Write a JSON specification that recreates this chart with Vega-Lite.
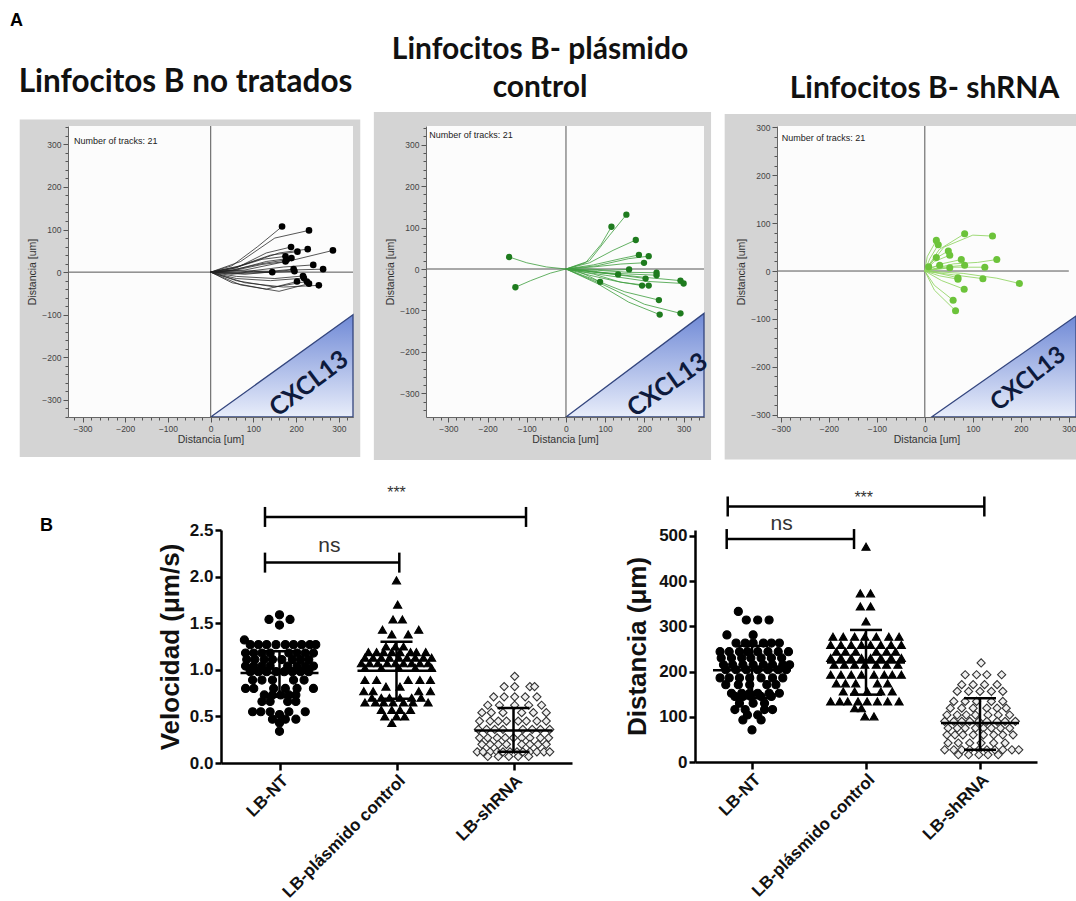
{
"$schema": "https://vega.github.io/schema/vega-lite/v6.json",
"padding": {"left": 10, "top": 11, "right": 0, "bottom": 2},
"autosize": {"type": "pad"},
"background": "white",
"columns": 5,
"align": "each",
"bounds": "flush",
"spacing": {"row": 113, "column": 0},
"title": {"text": "A", "anchor": "start", "frame": "group", "dx": -58, "offset": -13, "baseline": "bottom", "fontSize": 18, "font": "Liberation Sans", "fontWeight": "bold", "color": "#000"},
"config": {"view": {"stroke": null}, "font": "Liberation Sans"},
"datasets": {
"tracks1": [
{"t":1,"s":0,"x":0,"y":0,"e":0},{"t":1,"s":1,"x":50,"y":15,"e":0},{"t":1,"s":2,"x":110,"y":60,"e":0},{"t":1,"s":3,"x":167,"y":107,"e":1},
{"t":2,"s":0,"x":0,"y":0,"e":0},{"t":2,"s":1,"x":70,"y":25,"e":0},{"t":2,"s":2,"x":150,"y":80,"e":0},{"t":2,"s":3,"x":230,"y":98,"e":1},
{"t":3,"s":0,"x":0,"y":0,"e":0},{"t":3,"s":1,"x":60,"y":10,"e":0},{"t":3,"s":2,"x":130,"y":45,"e":0},{"t":3,"s":3,"x":188,"y":59,"e":1},
{"t":4,"s":0,"x":0,"y":0,"e":0},{"t":4,"s":1,"x":70,"y":15,"e":0},{"t":4,"s":2,"x":160,"y":45,"e":0},{"t":4,"s":3,"x":227,"y":54,"e":1},
{"t":5,"s":0,"x":0,"y":0,"e":0},{"t":5,"s":1,"x":60,"y":12,"e":0},{"t":5,"s":2,"x":140,"y":40,"e":0},{"t":5,"s":3,"x":203,"y":48,"e":1},
{"t":6,"s":0,"x":0,"y":0,"e":0},{"t":6,"s":1,"x":80,"y":5,"e":0},{"t":6,"s":2,"x":200,"y":30,"e":0},{"t":6,"s":3,"x":286,"y":51,"e":1},
{"t":7,"s":0,"x":0,"y":0,"e":0},{"t":7,"s":1,"x":50,"y":8,"e":0},{"t":7,"s":2,"x":120,"y":30,"e":0},{"t":7,"s":3,"x":175,"y":37,"e":1},
{"t":8,"s":0,"x":0,"y":0,"e":0},{"t":8,"s":1,"x":55,"y":5,"e":0},{"t":8,"s":2,"x":130,"y":25,"e":0},{"t":8,"s":3,"x":189,"y":33,"e":1},
{"t":9,"s":0,"x":0,"y":0,"e":0},{"t":9,"s":1,"x":60,"y":5,"e":0},{"t":9,"s":2,"x":120,"y":18,"e":0},{"t":9,"s":3,"x":175,"y":25,"e":1},
{"t":10,"s":0,"x":0,"y":0,"e":0},{"t":10,"s":1,"x":70,"y":0,"e":0},{"t":10,"s":2,"x":170,"y":12,"e":0},{"t":10,"s":3,"x":240,"y":17,"e":1},
{"t":11,"s":0,"x":0,"y":0,"e":0},{"t":11,"s":1,"x":80,"y":-5,"e":0},{"t":11,"s":2,"x":190,"y":5,"e":0},{"t":11,"s":3,"x":263,"y":7,"e":1},
{"t":12,"s":0,"x":0,"y":0,"e":0},{"t":12,"s":1,"x":60,"y":3,"e":0},{"t":12,"s":2,"x":140,"y":2,"e":0},{"t":12,"s":3,"x":194,"y":7,"e":1},
{"t":13,"s":0,"x":0,"y":0,"e":0},{"t":13,"s":1,"x":70,"y":-3,"e":0},{"t":13,"s":2,"x":150,"y":0,"e":0},{"t":13,"s":3,"x":196,"y":2,"e":1},
{"t":14,"s":0,"x":0,"y":0,"e":0},{"t":14,"s":1,"x":50,"y":-5,"e":0},{"t":14,"s":2,"x":100,"y":2,"e":0},{"t":14,"s":3,"x":144,"y":0,"e":1},
{"t":15,"s":0,"x":0,"y":0,"e":0},{"t":15,"s":1,"x":60,"y":-10,"e":0},{"t":15,"s":2,"x":150,"y":-15,"e":0},{"t":15,"s":3,"x":216,"y":-9,"e":1},
{"t":16,"s":0,"x":0,"y":0,"e":0},{"t":16,"s":1,"x":60,"y":-20,"e":0},{"t":16,"s":2,"x":150,"y":-35,"e":0},{"t":16,"s":3,"x":225,"y":-22,"e":1},
{"t":17,"s":0,"x":0,"y":0,"e":0},{"t":17,"s":1,"x":50,"y":-25,"e":0},{"t":17,"s":2,"x":130,"y":-40,"e":0},{"t":17,"s":3,"x":202,"y":-22,"e":1},
{"t":18,"s":0,"x":0,"y":0,"e":0},{"t":18,"s":1,"x":70,"y":-30,"e":0},{"t":18,"s":2,"x":160,"y":-45,"e":0},{"t":18,"s":3,"x":230,"y":-27,"e":1},
{"t":19,"s":0,"x":0,"y":0,"e":0},{"t":19,"s":1,"x":80,"y":-25,"e":0},{"t":19,"s":2,"x":170,"y":-35,"e":0},{"t":19,"s":3,"x":253,"y":-31,"e":1},
{"t":20,"s":0,"x":0,"y":0,"e":0},{"t":20,"s":1,"x":60,"y":-15,"e":0},{"t":20,"s":2,"x":140,"y":-20,"e":0},{"t":20,"s":3,"x":218,"y":-14,"e":1},
{"t":21,"s":0,"x":0,"y":0,"e":0},{"t":21,"s":1,"x":50,"y":5,"e":0},{"t":21,"s":2,"x":120,"y":20,"e":0},{"t":21,"s":3,"x":178,"y":29,"e":1}
],
"tracks2": [
{"t":1,"s":0,"x":0,"y":0,"e":0},{"t":1,"s":1,"x":60,"y":20,"e":0},{"t":1,"s":2,"x":110,"y":80,"e":0},{"t":1,"s":3,"x":154,"y":131,"e":1},
{"t":2,"s":0,"x":0,"y":0,"e":0},{"t":2,"s":1,"x":50,"y":15,"e":0},{"t":2,"s":2,"x":90,"y":60,"e":0},{"t":2,"s":3,"x":116,"y":102,"e":1},
{"t":3,"s":0,"x":0,"y":0,"e":0},{"t":3,"s":1,"x":60,"y":15,"e":0},{"t":3,"s":2,"x":120,"y":45,"e":0},{"t":3,"s":3,"x":178,"y":70,"e":1},
{"t":4,"s":0,"x":0,"y":0,"e":0},{"t":4,"s":1,"x":70,"y":10,"e":0},{"t":4,"s":2,"x":140,"y":25,"e":0},{"t":4,"s":3,"x":186,"y":34,"e":1},
{"t":5,"s":0,"x":0,"y":0,"e":0},{"t":5,"s":1,"x":80,"y":8,"e":0},{"t":5,"s":2,"x":160,"y":25,"e":0},{"t":5,"s":3,"x":211,"y":31,"e":1},
{"t":6,"s":0,"x":0,"y":0,"e":0},{"t":6,"s":1,"x":70,"y":5,"e":0},{"t":6,"s":2,"x":140,"y":12,"e":0},{"t":6,"s":3,"x":199,"y":15,"e":1},
{"t":7,"s":0,"x":0,"y":0,"e":0},{"t":7,"s":1,"x":-50,"y":5,"e":0},{"t":7,"s":2,"x":-100,"y":15,"e":0},{"t":7,"s":3,"x":-145,"y":29,"e":1},
{"t":8,"s":0,"x":0,"y":0,"e":0},{"t":8,"s":1,"x":-40,"y":-10,"e":0},{"t":8,"s":2,"x":-90,"y":-28,"e":0},{"t":8,"s":3,"x":-129,"y":-44,"e":1},
{"t":9,"s":0,"x":0,"y":0,"e":0},{"t":9,"s":1,"x":30,"y":-5,"e":0},{"t":9,"s":2,"x":60,"y":-18,"e":0},{"t":9,"s":3,"x":87,"y":-31,"e":1},
{"t":10,"s":0,"x":0,"y":0,"e":0},{"t":10,"s":1,"x":45,"y":-3,"e":0},{"t":10,"s":2,"x":90,"y":-10,"e":0},{"t":10,"s":3,"x":133,"y":-13,"e":1},
{"t":11,"s":0,"x":0,"y":0,"e":0},{"t":11,"s":1,"x":60,"y":0,"e":0},{"t":11,"s":2,"x":110,"y":-3,"e":0},{"t":11,"s":3,"x":161,"y":-1,"e":1},
{"t":12,"s":0,"x":0,"y":0,"e":0},{"t":12,"s":1,"x":70,"y":-5,"e":0},{"t":12,"s":2,"x":140,"y":-15,"e":0},{"t":12,"s":3,"x":203,"y":-23,"e":1},
{"t":13,"s":0,"x":0,"y":0,"e":0},{"t":13,"s":1,"x":80,"y":-3,"e":0},{"t":13,"s":2,"x":160,"y":-8,"e":0},{"t":13,"s":3,"x":231,"y":-9,"e":1},
{"t":14,"s":0,"x":0,"y":0,"e":0},{"t":14,"s":1,"x":80,"y":-8,"e":0},{"t":14,"s":2,"x":160,"y":-12,"e":0},{"t":14,"s":3,"x":231,"y":-15,"e":1},
{"t":15,"s":0,"x":0,"y":0,"e":0},{"t":15,"s":1,"x":60,"y":-15,"e":0},{"t":15,"s":2,"x":130,"y":-30,"e":0},{"t":15,"s":3,"x":194,"y":-40,"e":1},
{"t":16,"s":0,"x":0,"y":0,"e":0},{"t":16,"s":1,"x":70,"y":-12,"e":0},{"t":16,"s":2,"x":140,"y":-32,"e":0},{"t":16,"s":3,"x":211,"y":-40,"e":1},
{"t":17,"s":0,"x":0,"y":0,"e":0},{"t":17,"s":1,"x":100,"y":-10,"e":0},{"t":17,"s":2,"x":200,"y":-20,"e":0},{"t":17,"s":3,"x":292,"y":-28,"e":1},
{"t":18,"s":0,"x":0,"y":0,"e":0},{"t":18,"s":1,"x":100,"y":-15,"e":0},{"t":18,"s":2,"x":210,"y":-30,"e":0},{"t":18,"s":3,"x":300,"y":-35,"e":1},
{"t":19,"s":0,"x":0,"y":0,"e":0},{"t":19,"s":1,"x":70,"y":-25,"e":0},{"t":19,"s":2,"x":150,"y":-55,"e":0},{"t":19,"s":3,"x":237,"y":-75,"e":1},
{"t":20,"s":0,"x":0,"y":0,"e":0},{"t":20,"s":1,"x":80,"y":-35,"e":0},{"t":20,"s":2,"x":160,"y":-80,"e":0},{"t":20,"s":3,"x":239,"y":-110,"e":1},
{"t":21,"s":0,"x":0,"y":0,"e":0},{"t":21,"s":1,"x":100,"y":-40,"e":0},{"t":21,"s":2,"x":200,"y":-85,"e":0},{"t":21,"s":3,"x":292,"y":-107,"e":1}
],
"tracks3": [
{"t":1,"s":0,"x":0,"y":0,"e":0},{"t":1,"s":1,"x":5,"y":30,"e":0},{"t":1,"s":2,"x":24,"y":64,"e":1},
{"t":2,"s":0,"x":0,"y":0,"e":0},{"t":2,"s":1,"x":10,"y":25,"e":0},{"t":2,"s":2,"x":28,"y":55,"e":1},
{"t":3,"s":0,"x":0,"y":0,"e":0},{"t":3,"s":1,"x":30,"y":45,"e":0},{"t":3,"s":2,"x":83,"y":78,"e":1},
{"t":4,"s":0,"x":0,"y":0,"e":0},{"t":4,"s":1,"x":40,"y":50,"e":0},{"t":4,"s":2,"x":100,"y":75,"e":0},{"t":4,"s":3,"x":141,"y":73,"e":1},
{"t":5,"s":0,"x":0,"y":0,"e":0},{"t":5,"s":1,"x":20,"y":25,"e":0},{"t":5,"s":2,"x":49,"y":42,"e":1},
{"t":6,"s":0,"x":0,"y":0,"e":0},{"t":6,"s":1,"x":20,"y":20,"e":0},{"t":6,"s":2,"x":52,"y":33,"e":1},
{"t":7,"s":0,"x":0,"y":0,"e":0},{"t":7,"s":1,"x":10,"y":15,"e":0},{"t":7,"s":2,"x":24,"y":28,"e":1},
{"t":8,"s":0,"x":0,"y":0,"e":0},{"t":8,"s":1,"x":35,"y":15,"e":0},{"t":8,"s":2,"x":76,"y":24,"e":1},
{"t":9,"s":0,"x":0,"y":0,"e":0},{"t":9,"s":1,"x":60,"y":15,"e":0},{"t":9,"s":2,"x":110,"y":18,"e":0},{"t":9,"s":3,"x":150,"y":24,"e":1},
{"t":10,"s":0,"x":0,"y":0,"e":0},{"t":10,"s":1,"x":40,"y":8,"e":0},{"t":10,"s":2,"x":83,"y":12,"e":1},
{"t":11,"s":0,"x":0,"y":0,"e":0},{"t":11,"s":1,"x":60,"y":8,"e":0},{"t":11,"s":2,"x":125,"y":8,"e":1},
{"t":12,"s":0,"x":0,"y":0,"e":0},{"t":12,"s":1,"x":25,"y":5,"e":0},{"t":12,"s":2,"x":52,"y":7,"e":1},
{"t":13,"s":0,"x":0,"y":0,"e":0},{"t":13,"s":1,"x":15,"y":8,"e":0},{"t":13,"s":2,"x":31,"y":12,"e":1},
{"t":14,"s":0,"x":0,"y":0,"e":0},{"t":14,"s":1,"x":3,"y":4,"e":0},{"t":14,"s":2,"x":8,"y":9,"e":1},
{"t":15,"s":0,"x":0,"y":0,"e":0},{"t":15,"s":1,"x":30,"y":-10,"e":0},{"t":15,"s":2,"x":69,"y":-17,"e":1},
{"t":16,"s":0,"x":0,"y":0,"e":0},{"t":16,"s":1,"x":60,"y":-8,"e":0},{"t":16,"s":2,"x":121,"y":-16,"e":1},
{"t":17,"s":0,"x":0,"y":0,"e":0},{"t":17,"s":1,"x":80,"y":-5,"e":0},{"t":17,"s":2,"x":150,"y":-15,"e":0},{"t":17,"s":3,"x":197,"y":-26,"e":1},
{"t":18,"s":0,"x":0,"y":0,"e":0},{"t":18,"s":1,"x":35,"y":-20,"e":0},{"t":18,"s":2,"x":82,"y":-38,"e":1},
{"t":19,"s":0,"x":0,"y":0,"e":0},{"t":19,"s":1,"x":20,"y":-30,"e":0},{"t":19,"s":2,"x":59,"y":-61,"e":1},
{"t":20,"s":0,"x":0,"y":0,"e":0},{"t":20,"s":1,"x":20,"y":-40,"e":0},{"t":20,"s":2,"x":64,"y":-83,"e":1},
{"t":21,"s":0,"x":0,"y":0,"e":0},{"t":21,"s":1,"x":30,"y":-5,"e":0},{"t":21,"s":2,"x":69,"y":-14,"e":1}
],
"velPts": [
{"g":1,"x":1.00,"y":1.59},{"g":1,"x":0.91,"y":1.54},{"g":1,"x":1.09,"y":1.54},{"g":1,"x":1.00,"y":1.48},{"g":1,"x":0.70,"y":1.32},
{"g":1,"x":0.75,"y":1.27},{"g":1,"x":0.82,"y":1.27},{"g":1,"x":0.89,"y":1.27},{"g":1,"x":0.97,"y":1.27},{"g":1,"x":1.05,"y":1.27},{"g":1,"x":1.12,"y":1.27},{"g":1,"x":1.19,"y":1.27},{"g":1,"x":1.26,"y":1.27},{"g":1,"x":1.31,"y":1.27},
{"g":1,"x":0.71,"y":1.18},{"g":1,"x":0.78,"y":1.18},{"g":1,"x":0.85,"y":1.18},{"g":1,"x":0.92,"y":1.18},{"g":1,"x":1.08,"y":1.18},{"g":1,"x":1.15,"y":1.18},{"g":1,"x":1.22,"y":1.18},{"g":1,"x":1.29,"y":1.18},
{"g":1,"x":0.72,"y":1.11},{"g":1,"x":0.79,"y":1.11},{"g":1,"x":0.87,"y":1.11},{"g":1,"x":0.94,"y":1.11},{"g":1,"x":1.02,"y":1.11},{"g":1,"x":1.11,"y":1.11},{"g":1,"x":1.18,"y":1.11},{"g":1,"x":1.25,"y":1.11},
{"g":1,"x":0.71,"y":1.04},{"g":1,"x":0.78,"y":1.04},{"g":1,"x":0.85,"y":1.04},{"g":1,"x":0.92,"y":1.04},{"g":1,"x":1.07,"y":1.04},{"g":1,"x":1.15,"y":1.04},{"g":1,"x":1.22,"y":1.04},{"g":1,"x":1.29,"y":1.04},
{"g":1,"x":0.75,"y":0.98},{"g":1,"x":0.82,"y":0.98},{"g":1,"x":0.89,"y":0.98},{"g":1,"x":0.97,"y":0.98},{"g":1,"x":1.04,"y":0.98},{"g":1,"x":1.11,"y":0.98},{"g":1,"x":1.18,"y":0.98},{"g":1,"x":1.25,"y":0.98},
{"g":1,"x":0.77,"y":0.89},{"g":1,"x":0.85,"y":0.89},{"g":1,"x":0.94,"y":0.89},{"g":1,"x":1.12,"y":0.89},{"g":1,"x":1.21,"y":0.89},
{"g":1,"x":0.71,"y":0.80},{"g":1,"x":0.78,"y":0.80},{"g":1,"x":0.95,"y":0.80},{"g":1,"x":1.05,"y":0.80},{"g":1,"x":1.15,"y":0.80},{"g":1,"x":1.29,"y":0.80},
{"g":1,"x":0.87,"y":0.73},{"g":1,"x":0.94,"y":0.73},{"g":1,"x":1.01,"y":0.73},{"g":1,"x":1.08,"y":0.73},{"g":1,"x":1.14,"y":0.73},
{"g":1,"x":0.85,"y":0.66},{"g":1,"x":0.92,"y":0.66},{"g":1,"x":1.07,"y":0.66},{"g":1,"x":1.14,"y":0.66},
{"g":1,"x":0.77,"y":0.55},{"g":1,"x":0.84,"y":0.55},{"g":1,"x":0.92,"y":0.55},{"g":1,"x":1.08,"y":0.55},{"g":1,"x":1.22,"y":0.55},
{"g":1,"x":1.00,"y":0.52},{"g":1,"x":0.94,"y":0.47},{"g":1,"x":1.05,"y":0.47},{"g":1,"x":1.14,"y":0.47},{"g":1,"x":1.00,"y":0.43},{"g":1,"x":1.00,"y":0.34},
{"g":2,"x":2.00,"y":1.96},{"g":2,"x":2.01,"y":1.70},{"g":2,"x":1.97,"y":1.54},{"g":2,"x":2.05,"y":1.54},{"g":2,"x":1.88,"y":1.43},{"g":2,"x":2.19,"y":1.43},{"g":2,"x":1.96,"y":1.38},{"g":2,"x":2.10,"y":1.38},
{"g":2,"x":1.91,"y":1.25},{"g":2,"x":1.99,"y":1.25},{"g":2,"x":2.06,"y":1.25},
{"g":2,"x":1.76,"y":1.19},{"g":2,"x":1.83,"y":1.19},{"g":2,"x":1.89,"y":1.19},{"g":2,"x":1.96,"y":1.19},{"g":2,"x":2.03,"y":1.19},{"g":2,"x":2.12,"y":1.19},{"g":2,"x":2.17,"y":1.19},{"g":2,"x":2.25,"y":1.19},
{"g":2,"x":1.73,"y":1.13},{"g":2,"x":1.80,"y":1.13},{"g":2,"x":1.87,"y":1.13},{"g":2,"x":1.94,"y":1.13},{"g":2,"x":2.02,"y":1.13},{"g":2,"x":2.09,"y":1.13},{"g":2,"x":2.16,"y":1.13},{"g":2,"x":2.23,"y":1.13},{"g":2,"x":2.30,"y":1.13},
{"g":2,"x":1.70,"y":1.07},{"g":2,"x":1.77,"y":1.07},{"g":2,"x":1.84,"y":1.07},{"g":2,"x":1.92,"y":1.07},{"g":2,"x":1.99,"y":1.07},{"g":2,"x":2.06,"y":1.07},{"g":2,"x":2.13,"y":1.07},{"g":2,"x":2.20,"y":1.07},{"g":2,"x":2.27,"y":1.07},
{"g":2,"x":1.73,"y":1.02},{"g":2,"x":1.87,"y":1.02},{"g":2,"x":2.02,"y":1.02},{"g":2,"x":2.16,"y":1.02},{"g":2,"x":2.30,"y":1.02},
{"g":2,"x":1.73,"y":0.89},{"g":2,"x":1.83,"y":0.89},{"g":2,"x":2.10,"y":0.89},{"g":2,"x":2.20,"y":0.89},{"g":2,"x":2.29,"y":0.89},
{"g":2,"x":1.91,"y":0.82},{"g":2,"x":2.03,"y":0.82},
{"g":2,"x":1.72,"y":0.77},{"g":2,"x":1.80,"y":0.77},{"g":2,"x":2.19,"y":0.77},{"g":2,"x":2.29,"y":0.77},
{"g":2,"x":1.79,"y":0.70},{"g":2,"x":1.87,"y":0.70},{"g":2,"x":1.94,"y":0.70},{"g":2,"x":2.03,"y":0.70},{"g":2,"x":2.13,"y":0.70},{"g":2,"x":2.21,"y":0.70},
{"g":2,"x":1.73,"y":0.65},{"g":2,"x":1.82,"y":0.65},{"g":2,"x":1.89,"y":0.65},{"g":2,"x":1.97,"y":0.65},{"g":2,"x":2.06,"y":0.65},{"g":2,"x":2.14,"y":0.65},{"g":2,"x":2.27,"y":0.65},
{"g":2,"x":1.87,"y":0.57},{"g":2,"x":1.96,"y":0.57},{"g":2,"x":2.03,"y":0.57},{"g":2,"x":2.12,"y":0.57},
{"g":2,"x":1.90,"y":0.50},{"g":2,"x":2.00,"y":0.50},{"g":2,"x":2.07,"y":0.50},{"g":2,"x":1.96,"y":0.43},
{"g":3,"x":3.01,"y":0.93},
{"g":3,"x":2.92,"y":0.82},{"g":3,"x":3.01,"y":0.82},{"g":3,"x":3.14,"y":0.82},{"g":3,"x":3.18,"y":0.82},
{"g":3,"x":2.83,"y":0.71},{"g":3,"x":2.92,"y":0.71},{"g":3,"x":3.01,"y":0.71},{"g":3,"x":3.10,"y":0.71},{"g":3,"x":3.20,"y":0.71},
{"g":3,"x":2.78,"y":0.62},{"g":3,"x":2.88,"y":0.62},{"g":3,"x":3.01,"y":0.62},{"g":3,"x":3.13,"y":0.62},{"g":3,"x":3.24,"y":0.62},
{"g":3,"x":2.73,"y":0.54},{"g":3,"x":2.81,"y":0.54},{"g":3,"x":2.91,"y":0.54},{"g":3,"x":3.07,"y":0.54},{"g":3,"x":3.17,"y":0.54},{"g":3,"x":3.28,"y":0.54},
{"g":3,"x":2.71,"y":0.45},{"g":3,"x":2.80,"y":0.45},{"g":3,"x":2.87,"y":0.45},{"g":3,"x":2.94,"y":0.45},{"g":3,"x":3.04,"y":0.45},{"g":3,"x":3.11,"y":0.45},{"g":3,"x":3.20,"y":0.45},{"g":3,"x":3.28,"y":0.45},
{"g":3,"x":2.70,"y":0.36},{"g":3,"x":2.77,"y":0.36},{"g":3,"x":2.84,"y":0.36},{"g":3,"x":2.91,"y":0.36},{"g":3,"x":3.08,"y":0.36},{"g":3,"x":3.16,"y":0.36},{"g":3,"x":3.23,"y":0.36},{"g":3,"x":3.31,"y":0.36},
{"g":3,"x":2.71,"y":0.27},{"g":3,"x":2.78,"y":0.27},{"g":3,"x":2.86,"y":0.27},{"g":3,"x":2.93,"y":0.27},{"g":3,"x":3.00,"y":0.27},{"g":3,"x":3.07,"y":0.27},{"g":3,"x":3.14,"y":0.27},{"g":3,"x":3.23,"y":0.27},{"g":3,"x":3.30,"y":0.27},
{"g":3,"x":2.73,"y":0.20},{"g":3,"x":2.80,"y":0.20},{"g":3,"x":2.87,"y":0.20},{"g":3,"x":2.94,"y":0.20},{"g":3,"x":3.07,"y":0.20},{"g":3,"x":3.14,"y":0.20},{"g":3,"x":3.21,"y":0.20},{"g":3,"x":3.28,"y":0.20},
{"g":3,"x":2.69,"y":0.12},{"g":3,"x":2.74,"y":0.12},{"g":3,"x":2.80,"y":0.12},{"g":3,"x":2.86,"y":0.12},{"g":3,"x":2.91,"y":0.12},{"g":3,"x":2.97,"y":0.12},{"g":3,"x":3.03,"y":0.12},{"g":3,"x":3.08,"y":0.12},{"g":3,"x":3.14,"y":0.12},{"g":3,"x":3.20,"y":0.12},{"g":3,"x":3.26,"y":0.12},{"g":3,"x":3.31,"y":0.12},
{"g":3,"x":2.78,"y":0.07},{"g":3,"x":2.87,"y":0.07},{"g":3,"x":2.96,"y":0.07},{"g":3,"x":3.04,"y":0.07},{"g":3,"x":3.13,"y":0.07}
],
"distPts": [
{"g":1,"x":0.88,"y":333},{"g":1,"x":0.95,"y":314},{"g":1,"x":1.05,"y":314},{"g":1,"x":1.15,"y":314},{"g":1,"x":0.78,"y":281},{"g":1,"x":1.01,"y":281},
{"g":1,"x":0.86,"y":263},{"g":1,"x":0.94,"y":263},{"g":1,"x":1.01,"y":263},{"g":1,"x":1.10,"y":263},{"g":1,"x":1.17,"y":263},{"g":1,"x":1.24,"y":263},
{"g":1,"x":0.72,"y":244},{"g":1,"x":0.80,"y":244},{"g":1,"x":0.89,"y":244},{"g":1,"x":0.96,"y":244},{"g":1,"x":1.05,"y":244},{"g":1,"x":1.14,"y":244},{"g":1,"x":1.23,"y":244},{"g":1,"x":1.32,"y":244},
{"g":1,"x":0.73,"y":230},{"g":1,"x":0.82,"y":230},{"g":1,"x":0.91,"y":230},{"g":1,"x":0.99,"y":230},{"g":1,"x":1.08,"y":230},{"g":1,"x":1.17,"y":230},{"g":1,"x":1.26,"y":230},
{"g":1,"x":0.75,"y":215},{"g":1,"x":0.83,"y":215},{"g":1,"x":0.92,"y":215},{"g":1,"x":1.01,"y":215},{"g":1,"x":1.10,"y":215},{"g":1,"x":1.18,"y":215},{"g":1,"x":1.27,"y":215},{"g":1,"x":1.33,"y":215},
{"g":1,"x":0.77,"y":204},{"g":1,"x":0.86,"y":204},{"g":1,"x":0.95,"y":204},{"g":1,"x":1.05,"y":204},{"g":1,"x":1.14,"y":204},{"g":1,"x":1.23,"y":204},{"g":1,"x":1.30,"y":204},
{"g":1,"x":0.72,"y":186},{"g":1,"x":0.80,"y":186},{"g":1,"x":0.89,"y":186},{"g":1,"x":0.98,"y":186},{"g":1,"x":1.08,"y":186},{"g":1,"x":1.18,"y":186},{"g":1,"x":1.27,"y":186},
{"g":1,"x":0.77,"y":171},{"g":1,"x":0.88,"y":171},{"g":1,"x":0.98,"y":171},{"g":1,"x":1.13,"y":171},{"g":1,"x":1.21,"y":171},
{"g":1,"x":0.82,"y":152},{"g":1,"x":0.91,"y":152},{"g":1,"x":0.98,"y":152},{"g":1,"x":1.05,"y":152},{"g":1,"x":1.15,"y":152},{"g":1,"x":1.24,"y":152},
{"g":1,"x":0.85,"y":145},{"g":1,"x":0.92,"y":145},{"g":1,"x":0.99,"y":145},{"g":1,"x":1.08,"y":145},{"g":1,"x":1.17,"y":145},
{"g":1,"x":0.89,"y":130},{"g":1,"x":1.01,"y":130},{"g":1,"x":1.11,"y":130},
{"g":1,"x":0.85,"y":116},{"g":1,"x":0.94,"y":116},{"g":1,"x":1.11,"y":116},{"g":1,"x":1.18,"y":116},
{"g":1,"x":0.96,"y":104},{"g":1,"x":1.05,"y":104},{"g":1,"x":0.92,"y":93},{"g":1,"x":1.08,"y":93},{"g":1,"x":1.00,"y":71},
{"g":2,"x":2.00,"y":476},{"g":2,"x":1.95,"y":373},{"g":2,"x":2.04,"y":373},{"g":2,"x":1.95,"y":344},{"g":2,"x":2.04,"y":344},{"g":2,"x":2.00,"y":311},
{"g":2,"x":1.71,"y":277},{"g":2,"x":1.80,"y":277},{"g":2,"x":1.90,"y":277},{"g":2,"x":1.99,"y":277},{"g":2,"x":2.09,"y":277},{"g":2,"x":2.20,"y":277},{"g":2,"x":2.29,"y":277},
{"g":2,"x":1.69,"y":259},{"g":2,"x":1.78,"y":259},{"g":2,"x":1.87,"y":259},{"g":2,"x":1.96,"y":259},{"g":2,"x":2.04,"y":259},{"g":2,"x":2.13,"y":259},{"g":2,"x":2.22,"y":259},{"g":2,"x":2.31,"y":259},
{"g":2,"x":1.74,"y":244},{"g":2,"x":1.82,"y":244},{"g":2,"x":1.91,"y":244},{"g":2,"x":2.09,"y":244},{"g":2,"x":2.18,"y":244},{"g":2,"x":2.26,"y":244},
{"g":2,"x":1.69,"y":230},{"g":2,"x":1.78,"y":230},{"g":2,"x":1.87,"y":230},{"g":2,"x":1.96,"y":230},{"g":2,"x":2.04,"y":230},{"g":2,"x":2.13,"y":230},{"g":2,"x":2.22,"y":230},{"g":2,"x":2.31,"y":230},
{"g":2,"x":1.72,"y":215},{"g":2,"x":1.81,"y":215},{"g":2,"x":1.90,"y":215},{"g":2,"x":1.99,"y":215},{"g":2,"x":2.09,"y":215},{"g":2,"x":2.18,"y":215},{"g":2,"x":2.28,"y":215},
{"g":2,"x":1.69,"y":193},{"g":2,"x":1.78,"y":193},{"g":2,"x":1.87,"y":193},{"g":2,"x":1.96,"y":193},{"g":2,"x":2.07,"y":193},{"g":2,"x":2.16,"y":193},{"g":2,"x":2.23,"y":193},{"g":2,"x":2.31,"y":193},
{"g":2,"x":1.74,"y":174},{"g":2,"x":1.82,"y":174},{"g":2,"x":1.91,"y":174},{"g":2,"x":2.10,"y":174},{"g":2,"x":2.19,"y":174},
{"g":2,"x":1.80,"y":156},{"g":2,"x":1.90,"y":156},{"g":2,"x":2.01,"y":156},{"g":2,"x":2.13,"y":156},{"g":2,"x":2.23,"y":156},
{"g":2,"x":1.69,"y":134},{"g":2,"x":1.77,"y":134},{"g":2,"x":1.84,"y":134},{"g":2,"x":1.93,"y":134},{"g":2,"x":2.01,"y":134},{"g":2,"x":2.10,"y":134},{"g":2,"x":2.19,"y":134},{"g":2,"x":2.29,"y":134},
{"g":2,"x":1.90,"y":119},{"g":2,"x":1.96,"y":119},{"g":2,"x":1.99,"y":101},{"g":2,"x":2.07,"y":101},
{"g":3,"x":3.01,"y":219},
{"g":3,"x":2.87,"y":193},{"g":3,"x":2.97,"y":193},{"g":3,"x":3.06,"y":193},{"g":3,"x":3.19,"y":193},
{"g":3,"x":2.84,"y":171},{"g":3,"x":2.94,"y":171},{"g":3,"x":3.04,"y":171},{"g":3,"x":3.15,"y":171},
{"g":3,"x":2.80,"y":156},{"g":3,"x":2.90,"y":156},{"g":3,"x":3.00,"y":156},{"g":3,"x":3.10,"y":156},{"g":3,"x":3.20,"y":156},
{"g":3,"x":2.77,"y":134},{"g":3,"x":2.87,"y":134},{"g":3,"x":2.97,"y":134},{"g":3,"x":3.10,"y":134},{"g":3,"x":3.20,"y":134},
{"g":3,"x":2.74,"y":119},{"g":3,"x":2.84,"y":119},{"g":3,"x":2.94,"y":119},{"g":3,"x":3.06,"y":119},{"g":3,"x":3.15,"y":119},{"g":3,"x":3.23,"y":119},
{"g":3,"x":2.71,"y":104},{"g":3,"x":2.80,"y":104},{"g":3,"x":2.88,"y":104},{"g":3,"x":2.96,"y":104},{"g":3,"x":3.07,"y":104},{"g":3,"x":3.16,"y":104},{"g":3,"x":3.26,"y":104},
{"g":3,"x":2.69,"y":90},{"g":3,"x":2.77,"y":90},{"g":3,"x":2.84,"y":90},{"g":3,"x":2.91,"y":90},{"g":3,"x":2.99,"y":90},{"g":3,"x":3.06,"y":90},{"g":3,"x":3.15,"y":90},{"g":3,"x":3.22,"y":90},{"g":3,"x":3.31,"y":90},
{"g":3,"x":2.72,"y":75},{"g":3,"x":2.80,"y":75},{"g":3,"x":2.87,"y":75},{"g":3,"x":2.96,"y":75},{"g":3,"x":3.03,"y":75},{"g":3,"x":3.10,"y":75},{"g":3,"x":3.18,"y":75},{"g":3,"x":3.26,"y":75},
{"g":3,"x":2.71,"y":60},{"g":3,"x":2.78,"y":60},{"g":3,"x":2.85,"y":60},{"g":3,"x":2.94,"y":60},{"g":3,"x":3.03,"y":60},{"g":3,"x":3.12,"y":60},{"g":3,"x":3.20,"y":60},{"g":3,"x":3.29,"y":60},
{"g":3,"x":2.72,"y":42},{"g":3,"x":2.81,"y":42},{"g":3,"x":2.91,"y":42},{"g":3,"x":3.01,"y":42},{"g":3,"x":3.12,"y":42},{"g":3,"x":3.22,"y":42},
{"g":3,"x":2.69,"y":27},{"g":3,"x":2.77,"y":27},{"g":3,"x":2.84,"y":27},{"g":3,"x":2.91,"y":27},{"g":3,"x":2.99,"y":27},{"g":3,"x":3.06,"y":27},{"g":3,"x":3.13,"y":27},{"g":3,"x":3.20,"y":27},{"g":3,"x":3.28,"y":27},{"g":3,"x":3.34,"y":27},
{"g":3,"x":2.81,"y":16},{"g":3,"x":2.90,"y":16},{"g":3,"x":2.99,"y":16},{"g":3,"x":3.07,"y":16},{"g":3,"x":3.16,"y":16}
],
"velStats": [
{"g":1,"x":1,"k":"mean","y":0.965},{"g":1,"x":1,"k":"lo","y":0.71},{"g":1,"x":1,"k":"hi","y":1.20},
{"g":2,"x":2,"k":"mean","y":0.99},{"g":2,"x":2,"k":"lo","y":0.69},{"g":2,"x":2,"k":"hi","y":1.30},
{"g":3,"x":3,"k":"mean","y":0.35},{"g":3,"x":3,"k":"lo","y":0.12},{"g":3,"x":3,"k":"hi","y":0.59}
],
"distStats": [
{"g":1,"x":1,"k":"mean","y":203},{"g":1,"x":1,"k":"lo","y":141},{"g":1,"x":1,"k":"hi","y":257},
{"g":2,"x":2,"k":"mean","y":220},{"g":2,"x":2,"k":"lo","y":149},{"g":2,"x":2,"k":"hi","y":292},
{"g":3,"x":3,"k":"mean","y":86},{"g":3,"x":3,"k":"lo","y":27},{"g":3,"x":3,"k":"hi","y":141}
],
"velBr": [{"b":1,"x":0.876,"y":2.64},{"b":1,"x":3.107,"y":2.64},{"b":2,"x":0.876,"y":2.15},{"b":2,"x":2.024,"y":2.15}],
"distBr": [{"b":1,"x":0.787,"y":565},{"b":1,"x":3.038,"y":565},{"b":2,"x":0.778,"y":493},{"b":2,"x":1.895,"y":493}],
"velTxt": [{"x":2.0,"y":2.9,"label":"***","k":"s"},{"x":1.427,"y":2.33,"label":"ns","k":"n"}],
"distTxt": [{"x":1.98,"y":584,"label":"***","k":"s"},{"x":1.26,"y":526,"label":"ns","k":"n"}]
},
"concat": [
{
"width": 285, "height": 291,
"title": {"text": "Linfocitos B no tratados", "font": "Lato", "fontSize": 31.5, "fontWeight": "bold", "color": "#111", "anchor": "middle", "dx": -25, "offset": -11, "baseline": "bottom"},
"encoding": {
"x": {"field": "x", "type": "quantitative", "scale": {"domain": [-334, 333], "nice": false, "zero": false},
 "axis": {"values": [-320,-300,-280,-260,-240,-220,-200,-180,-160,-140,-120,-100,-80,-60,-40,-20,0,20,40,60,80,100,120,140,160,180,200,220,240,260,280,300,320], "labelExpr": "datum.value % 100 === 0 ? datum.label : ''", "tickSize": {"condition": {"test": "datum.value % 100 === 0", "value": 5}, "value": 3}, "tickColor": "#555", "domainColor": "#666", "labelColor": "#444", "labelFontSize": 8.5, "labelFont": "Liberation Sans", "labelPadding": 2, "labelOverlap": false, "title": "Distancia [um]", "titleFont": "Liberation Sans", "titleFontSize": 10.5, "titleFontWeight": "normal", "titleColor": "#333", "titlePadding": 2, "grid": false, "zindex": 1}},
"y": {"field": "y", "type": "quantitative", "scale": {"domain": [-340, 343], "nice": false, "zero": false},
 "axis": {"values": [-340,-320,-300,-280,-260,-240,-220,-200,-180,-160,-140,-120,-100,-80,-60,-40,-20,0,20,40,60,80,100,120,140,160,180,200,220,240,260,280,300,320,340], "labelExpr": "datum.value % 100 === 0 ? datum.label : ''", "tickSize": {"condition": {"test": "datum.value % 100 === 0", "value": 5}, "value": 3}, "tickColor": "#555", "domainColor": "#666", "labelColor": "#444", "labelFontSize": 8.5, "labelFont": "Liberation Sans", "labelPadding": 2, "labelOverlap": false, "title": "Distancia [um]", "titleFont": "Liberation Sans", "titleFontSize": 10.5, "titleFontWeight": "normal", "titleColor": "#333", "titlePadding": 4, "grid": false, "zindex": 1}}
},
"layer": [
{"data": {"values": [{"x": -447, "x2": 350, "y": 358, "y2": -434}]}, "mark": {"type": "rect", "fill": "#d4d4d4"}, "encoding": {"x2": {"field": "x2"}, "y2": {"field": "y2"}}},
{"data": {"values": [{"x": -334, "x2": 333, "y": 343, "y2": -340}]}, "mark": {"type": "rect", "fill": "#fcfcfc"}, "encoding": {"x2": {"field": "x2"}, "y2": {"field": "y2"}}},
{"data": {"values": [{"x": 0, "y": -340, "y2": -340}, {"x": 333, "y": -100, "y2": -340}]}, "mark": {"type": "area", "fill": {"gradient": "linear", "x1": 0, "y1": 0, "x2": 0, "y2": 1, "stops": [{"offset": 0, "color": "#6f89d6"}, {"offset": 1, "color": "#e8edfa"}]}, "stroke": "#34467e", "strokeWidth": 1.3}, "encoding": {"y2": {"field": "y2"}}},
{"data": {"values": [{"x": -334, "x2": 333, "y": 0}]}, "mark": {"type": "rule", "color": "#555", "strokeWidth": 1}, "encoding": {"x2": {"field": "x2"}}},
{"data": {"values": [{"x": 0, "y": -340, "y2": 343}]}, "mark": {"type": "rule", "color": "#555", "strokeWidth": 1}, "encoding": {"y2": {"field": "y2"}}},
{"data": {"values": [{"x": -320, "y": 308, "label": "Number of tracks: 21"}]}, "mark": {"type": "text", "align": "left", "baseline": "middle", "fontSize": 9, "font": "Liberation Sans", "color": "#222"}, "encoding": {"text": {"field": "label"}}},
{"data": {"values": [{"x": 230, "y": -262, "label": "CXCL13"}]}, "mark": {"type": "text", "angle": 323, "font": "Lato", "fontWeight": "bold", "fontSize": 25, "color": "#0e1a3c", "align": "center", "baseline": "middle"}, "encoding": {"text": {"field": "label"}}},
{"data": {"name": "tracks1"}, "mark": {"type": "line", "color": "#222", "strokeWidth": 0.9, "opacity": 0.85}, "encoding": {"detail": {"field": "t"}, "order": {"field": "s"}}},
{"data": {"name": "tracks1"}, "transform": [{"filter": "datum.e == 1"}], "mark": {"type": "circle", "color": "#000", "size": 44, "opacity": 1}}
]
},
{"width": 73, "height": 291, "data": {"values": [{"a": 1}]}, "mark": {"type": "text", "text": ""}, "encoding": {}},
{
"width": 278, "height": 291,
"title": {"text": ["Linfocitos B- plásmido", "control"], "lineHeight": 38, "font": "Lato", "fontSize": 30, "fontWeight": "bold", "color": "#111", "anchor": "middle", "dx": -25, "offset": -21, "baseline": "bottom"},
"encoding": {
"x": {"field": "x", "type": "quantitative", "scale": {"domain": [-357, 352], "nice": false, "zero": false},
 "axis": {"values": [-340,-320,-300,-280,-260,-240,-220,-200,-180,-160,-140,-120,-100,-80,-60,-40,-20,0,20,40,60,80,100,120,140,160,180,200,220,240,260,280,300,320,340], "labelExpr": "datum.value % 100 === 0 ? datum.label : ''", "tickSize": {"condition": {"test": "datum.value % 100 === 0", "value": 5}, "value": 3}, "tickColor": "#555", "domainColor": "#666", "labelColor": "#444", "labelFontSize": 8.5, "labelFont": "Liberation Sans", "labelPadding": 2, "labelOverlap": false, "title": "Distancia [um]", "titleFont": "Liberation Sans", "titleFontSize": 10.5, "titleFontWeight": "normal", "titleColor": "#333", "titlePadding": 2, "grid": false, "zindex": 1}},
"y": {"field": "y", "type": "quantitative", "scale": {"domain": [-357, 345], "nice": false, "zero": false},
 "axis": {"values": [-340,-320,-300,-280,-260,-240,-220,-200,-180,-160,-140,-120,-100,-80,-60,-40,-20,0,20,40,60,80,100,120,140,160,180,200,220,240,260,280,300,320,340], "labelExpr": "datum.value % 100 === 0 ? datum.label : ''", "tickSize": {"condition": {"test": "datum.value % 100 === 0", "value": 5}, "value": 3}, "tickColor": "#555", "domainColor": "#666", "labelColor": "#444", "labelFontSize": 8.5, "labelFont": "Liberation Sans", "labelPadding": 2, "labelOverlap": false, "title": "Distancia [um]", "titleFont": "Liberation Sans", "titleFontSize": 10.5, "titleFontWeight": "normal", "titleColor": "#333", "titlePadding": 4, "grid": false, "zindex": 1}}
},
"layer": [
{"data": {"values": [{"x": -490, "x2": 370, "y": 379, "y2": -461}]}, "mark": {"type": "rect", "fill": "#d4d4d4"}, "encoding": {"x2": {"field": "x2"}, "y2": {"field": "y2"}}},
{"data": {"values": [{"x": -357, "x2": 352, "y": 345, "y2": -357}]}, "mark": {"type": "rect", "fill": "#fcfcfc"}, "encoding": {"x2": {"field": "x2"}, "y2": {"field": "y2"}}},
{"data": {"values": [{"x": 0, "y": -357, "y2": -357}, {"x": 352, "y": -107, "y2": -357}]}, "mark": {"type": "area", "fill": {"gradient": "linear", "x1": 0, "y1": 0, "x2": 0, "y2": 1, "stops": [{"offset": 0, "color": "#6f89d6"}, {"offset": 1, "color": "#e8edfa"}]}, "stroke": "#34467e", "strokeWidth": 1.3}, "encoding": {"y2": {"field": "y2"}}},
{"data": {"values": [{"x": -357, "x2": 352, "y": 0}]}, "mark": {"type": "rule", "color": "#555", "strokeWidth": 1}, "encoding": {"x2": {"field": "x2"}}},
{"data": {"values": [{"x": 0, "y": -357, "y2": 345}]}, "mark": {"type": "rule", "color": "#555", "strokeWidth": 1}, "encoding": {"y2": {"field": "y2"}}},
{"data": {"values": [{"x": -349, "y": 323, "label": "Number of tracks: 21"}]}, "mark": {"type": "text", "align": "left", "baseline": "middle", "fontSize": 9, "font": "Liberation Sans", "color": "#222"}, "encoding": {"text": {"field": "label"}}},
{"data": {"values": [{"x": 259, "y": -280, "label": "CXCL13"}]}, "mark": {"type": "text", "angle": 325, "font": "Lato", "fontWeight": "bold", "fontSize": 25, "color": "#0e1a3c", "align": "center", "baseline": "middle"}, "encoding": {"text": {"field": "label"}}},
{"data": {"name": "tracks2"}, "mark": {"type": "line", "color": "#3f9f3f", "strokeWidth": 0.9, "opacity": 0.9}, "encoding": {"detail": {"field": "t"}, "order": {"field": "s"}}},
{"data": {"name": "tracks2"}, "transform": [{"filter": "datum.e == 1"}], "mark": {"type": "circle", "color": "#1e7b1e", "size": 40, "opacity": 1}}
]
},
{"width": 73, "height": 291, "data": {"values": [{"a": 1}]}, "mark": {"type": "text", "text": ""}, "encoding": {}},
{
"width": 299, "height": 291,
"title": {"text": "Linfocitos B- shRNA", "font": "Lato", "fontSize": 30, "fontWeight": "bold", "color": "#111", "anchor": "middle", "dx": -2, "offset": -20, "baseline": "bottom"},
"encoding": {
"x": {"field": "x", "type": "quantitative", "scale": {"domain": [-308, 315], "nice": false, "zero": false},
 "axis": {"values": [-300,-280,-260,-240,-220,-200,-180,-160,-140,-120,-100,-80,-60,-40,-20,0,20,40,60,80,100,120,140,160,180,200,220,240,260,280,300], "labelExpr": "datum.value % 100 === 0 ? datum.label : ''", "tickSize": {"condition": {"test": "datum.value % 100 === 0", "value": 5}, "value": 3}, "tickColor": "#555", "domainColor": "#666", "labelColor": "#444", "labelFontSize": 8.5, "labelFont": "Liberation Sans", "labelPadding": 2, "labelOverlap": false, "labelFlush": true, "title": "Distancia [um]", "titleFont": "Liberation Sans", "titleFontSize": 10.5, "titleFontWeight": "normal", "titleColor": "#333", "titlePadding": 2, "grid": false, "zindex": 1}},
"y": {"field": "y", "type": "quantitative", "scale": {"domain": [-305, 303], "nice": false, "zero": false},
 "axis": {"values": [-300,-280,-260,-240,-220,-200,-180,-160,-140,-120,-100,-80,-60,-40,-20,0,20,40,60,80,100,120,140,160,180,200,220,240,260,280,300], "labelExpr": "datum.value % 100 === 0 ? datum.label : ''", "tickSize": {"condition": {"test": "datum.value % 100 === 0", "value": 5}, "value": 3}, "tickColor": "#555", "domainColor": "#666", "labelColor": "#444", "labelFontSize": 8.5, "labelFont": "Liberation Sans", "labelPadding": 2, "labelOverlap": false, "title": "Distancia [um]", "titleFont": "Liberation Sans", "titleFontSize": 10.5, "titleFontWeight": "normal", "titleColor": "#333", "titlePadding": 4, "grid": false, "zindex": 1}}
},
"layer": [
{"data": {"values": [{"x": -417, "x2": 315, "y": 328, "y2": -394}]}, "mark": {"type": "rect", "fill": "#d4d4d4"}, "encoding": {"x2": {"field": "x2"}, "y2": {"field": "y2"}}},
{"data": {"values": [{"x": -308, "x2": 315, "y": 303, "y2": -305}]}, "mark": {"type": "rect", "fill": "#fcfcfc"}, "encoding": {"x2": {"field": "x2"}, "y2": {"field": "y2"}}},
{"data": {"values": [{"x": 14, "y": -305, "y2": -305}, {"x": 315, "y": -94, "y2": -305}]}, "mark": {"type": "area", "fill": {"gradient": "linear", "x1": 0, "y1": 0, "x2": 0, "y2": 1, "stops": [{"offset": 0, "color": "#6f89d6"}, {"offset": 1, "color": "#e8edfa"}]}, "stroke": "#34467e", "strokeWidth": 1.3}, "encoding": {"y2": {"field": "y2"}}},
{"data": {"values": [{"x": -308, "x2": 300, "y": 0}]}, "mark": {"type": "rule", "color": "#555", "strokeWidth": 1}, "encoding": {"x2": {"field": "x2"}}},
{"data": {"values": [{"x": 0, "y": -305, "y2": 303}]}, "mark": {"type": "rule", "color": "#555", "strokeWidth": 1}, "encoding": {"y2": {"field": "y2"}}},
{"data": {"values": [{"x": -298, "y": 278, "label": "Number of tracks: 21"}]}, "mark": {"type": "text", "align": "left", "baseline": "middle", "fontSize": 9, "font": "Liberation Sans", "color": "#222"}, "encoding": {"text": {"field": "label"}}},
{"data": {"values": [{"x": 216, "y": -226, "label": "CXCL13"}]}, "mark": {"type": "text", "angle": 322, "font": "Lato", "fontWeight": "bold", "fontSize": 24, "color": "#0e1a3c", "align": "center", "baseline": "middle"}, "encoding": {"text": {"field": "label"}}},
{"data": {"name": "tracks3"}, "mark": {"type": "line", "color": "#8fd460", "strokeWidth": 0.9, "opacity": 0.95}, "encoding": {"detail": {"field": "t"}, "order": {"field": "s"}}},
{"data": {"name": "tracks3"}, "transform": [{"filter": "datum.e == 1"}], "mark": {"type": "circle", "color": "#6cc33a", "size": 50, "opacity": 1}}
]
},
{
"width": 153, "height": 233,
"title": {"text": "B", "anchor": "start", "frame": "group", "dx": -28, "offset": -23, "baseline": "bottom", "fontSize": 18, "font": "Liberation Sans", "fontWeight": "bold", "color": "#000"},
"data": {"values": [{"a": 1}]},
"mark": {"type": "text", "text": ""},
"encoding": {}
},
{
"width": 73, "height": 233,
"encoding": {
 "x": {"field": "x", "type": "quantitative", "scale": {"domain": [0.5, 3.5], "range": [-132, 219], "nice": false, "zero": false},
  "axis": {"values": [1, 2, 3], "labelExpr": "datum.value == 1 ? 'LB-NT' : datum.value == 2 ? 'LB-plásmido control' : 'LB-shRNA'", "labelAngle": -45, "labelAlign": "right", "labelBaseline": "top", "labelFont": "Liberation Sans", "labelFontWeight": "bold", "labelFontSize": 17, "labelColor": "#111", "labelPadding": 2, "labelOverlap": false, "labelBound": false, "tickSize": 7, "tickWidth": 2.5, "tickColor": "#000", "domainColor": "#000", "domainWidth": 2.5, "title": null, "grid": false}},
 "y": {"field": "y", "type": "quantitative", "scale": {"domain": [0, 2.5], "nice": false, "zero": false},
  "axis": {"values": [0, 0.5, 1, 1.5, 2, 2.5], "format": ".1f", "offset": 132, "labelFont": "Liberation Sans", "labelFontWeight": "bold", "labelFontSize": 17, "labelColor": "#111", "labelPadding": 2, "tickSize": 6, "tickWidth": 2.5, "tickColor": "#000", "domainColor": "#000", "domainWidth": 2.5, "title": "Velocidad (μm/s)", "titleFont": "Liberation Sans", "titleFontSize": 26, "titleFontWeight": "bold", "titleColor": "#111", "titlePadding": 6, "grid": false}}
},
"layer": [
{"data": {"name": "velPts"}, "mark": {"type": "point", "filled": true, "size": 66, "strokeWidth": 1.1, "opacity": 1},
 "encoding": {
  "shape": {"field": "g", "type": "nominal", "scale": {"domain": [1, 2, 3], "range": ["circle", "triangle-up", "diamond"]}, "legend": null},
  "fill": {"field": "g", "type": "nominal", "scale": {"domain": [1, 2, 3], "range": ["#000000", "#000000", "#efefef"]}, "legend": null},
  "stroke": {"field": "g", "type": "nominal", "scale": {"domain": [1, 2, 3], "range": ["#000000", "#000000", "#333333"]}, "legend": null},
  "size": {"field": "g", "type": "nominal", "scale": {"domain": [1, 2, 3], "range": [66, 66, 46]}, "legend": null}
 }},
{"data": {"name": "velStats"}, "transform": [{"filter": "datum.k != 'mean'"}], "mark": {"type": "line", "color": "#000", "strokeWidth": 2.5}, "encoding": {"detail": {"field": "g"}}},
{"data": {"name": "velStats"}, "transform": [{"filter": "datum.k == 'mean'"}], "mark": {"type": "tick", "orient": "horizontal", "size": 78, "thickness": 2.5, "color": "#000", "opacity": 1}},
{"data": {"name": "velStats"}, "transform": [{"filter": "datum.k != 'mean'"}], "mark": {"type": "tick", "orient": "horizontal", "size": 32, "thickness": 2.5, "color": "#000", "opacity": 1}},
{"data": {"name": "velBr"}, "mark": {"type": "line", "color": "#000", "strokeWidth": 2.5}, "encoding": {"detail": {"field": "b"}}},
{"data": {"name": "velBr"}, "mark": {"type": "tick", "orient": "vertical", "size": 20, "thickness": 2.5, "color": "#000", "opacity": 1}},
{"data": {"name": "velTxt"}, "transform": [{"filter": "datum.k == 's'"}], "mark": {"type": "text", "fontSize": 16, "font": "Liberation Sans", "color": "#333", "align": "center", "baseline": "middle"}, "encoding": {"text": {"field": "label"}}},
{"data": {"name": "velTxt"}, "transform": [{"filter": "datum.k == 'n'"}], "mark": {"type": "text", "fontSize": 21, "font": "Liberation Sans", "color": "#333", "align": "center", "baseline": "middle"}, "encoding": {"text": {"field": "label"}}}
]
},
{"width": 100, "height": 233, "data": {"values": [{"a": 1}]}, "mark": {"type": "text", "text": ""}, "encoding": {}},
{
"width": 73, "height": 232,
"encoding": {
 "x": {"field": "x", "type": "quantitative", "scale": {"domain": [0.5, 3.5], "range": [-9, 333], "nice": false, "zero": false},
  "axis": {"values": [1, 2, 3], "labelExpr": "datum.value == 1 ? 'LB-NT' : datum.value == 2 ? 'LB-plásmido control' : 'LB-shRNA'", "labelAngle": -45, "labelAlign": "right", "labelBaseline": "top", "labelFont": "Liberation Sans", "labelFontWeight": "bold", "labelFontSize": 17, "labelColor": "#111", "labelPadding": 2, "labelOverlap": false, "labelBound": false, "tickSize": 7, "tickWidth": 2.5, "tickColor": "#000", "domainColor": "#000", "domainWidth": 2.5, "title": null, "grid": false}},
 "y": {"field": "y", "type": "quantitative", "scale": {"domain": [0, 513], "nice": false, "zero": false},
  "axis": {"values": [0, 100, 200, 300, 400, 500], "format": "d", "offset": 9, "labelFont": "Liberation Sans", "labelFontWeight": "bold", "labelFontSize": 17, "labelColor": "#111", "labelPadding": 2, "tickSize": 6, "tickWidth": 2.5, "tickColor": "#000", "domainColor": "#000", "domainWidth": 2.5, "title": "Distancia (μm)", "titleFont": "Liberation Sans", "titleFontSize": 26, "titleFontWeight": "bold", "titleColor": "#111", "titlePadding": 8, "grid": false}}
},
"layer": [
{"data": {"name": "distPts"}, "mark": {"type": "point", "filled": true, "size": 66, "strokeWidth": 1.1, "opacity": 1},
 "encoding": {
  "shape": {"field": "g", "type": "nominal", "scale": {"domain": [1, 2, 3], "range": ["circle", "triangle-up", "diamond"]}, "legend": null},
  "fill": {"field": "g", "type": "nominal", "scale": {"domain": [1, 2, 3], "range": ["#000000", "#000000", "#efefef"]}, "legend": null},
  "stroke": {"field": "g", "type": "nominal", "scale": {"domain": [1, 2, 3], "range": ["#000000", "#000000", "#333333"]}, "legend": null},
  "size": {"field": "g", "type": "nominal", "scale": {"domain": [1, 2, 3], "range": [66, 66, 46]}, "legend": null}
 }},
{"data": {"name": "distStats"}, "transform": [{"filter": "datum.k != 'mean'"}], "mark": {"type": "line", "color": "#000", "strokeWidth": 2.5}, "encoding": {"detail": {"field": "g"}}},
{"data": {"name": "distStats"}, "transform": [{"filter": "datum.k == 'mean'"}], "mark": {"type": "tick", "orient": "horizontal", "size": 78, "thickness": 2.5, "color": "#000", "opacity": 1}},
{"data": {"name": "distStats"}, "transform": [{"filter": "datum.k != 'mean'"}], "mark": {"type": "tick", "orient": "horizontal", "size": 32, "thickness": 2.5, "color": "#000", "opacity": 1}},
{"data": {"name": "distBr"}, "mark": {"type": "line", "color": "#000", "strokeWidth": 2.5}, "encoding": {"detail": {"field": "b"}}},
{"data": {"name": "distBr"}, "mark": {"type": "tick", "orient": "vertical", "size": 20, "thickness": 2.5, "color": "#000", "opacity": 1}},
{"data": {"name": "distTxt"}, "transform": [{"filter": "datum.k == 's'"}], "mark": {"type": "text", "fontSize": 16, "font": "Liberation Sans", "color": "#333", "align": "center", "baseline": "middle"}, "encoding": {"text": {"field": "label"}}},
{"data": {"name": "distTxt"}, "transform": [{"filter": "datum.k == 'n'"}], "mark": {"type": "text", "fontSize": 21, "font": "Liberation Sans", "color": "#333", "align": "center", "baseline": "middle"}, "encoding": {"text": {"field": "label"}}}
]
}
]
}
